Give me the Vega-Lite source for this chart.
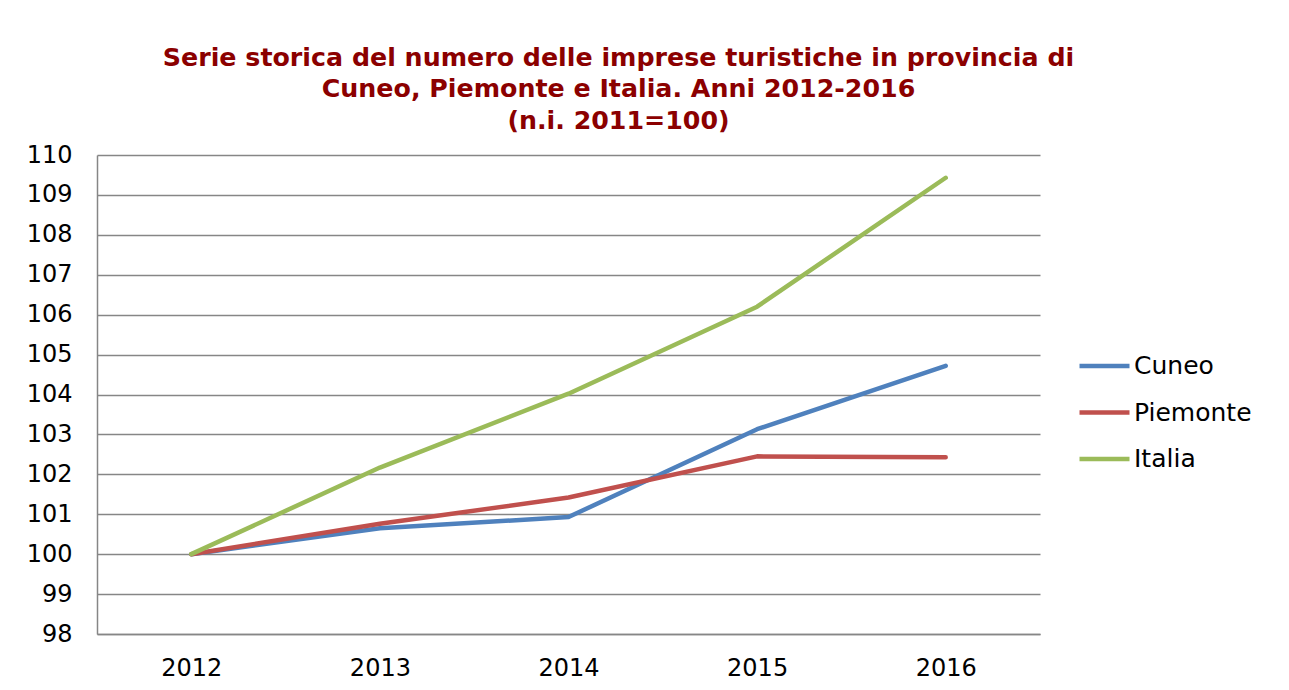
{
  "$schema": "https://vega.github.io/schema/vega-lite/v6.json",
  "width": 943,
  "height": 479,
  "autosize": {"type": "none"},
  "padding": {"left": 97, "top": 155, "right": 249, "bottom": 56},
  "background": "white",
  "title": {
    "text": ["Serie storica del numero delle imprese turistiche in provincia di", "Cuneo, Piemonte e Italia. Anni 2012-2016", "(n.i. 2011=100)"],
    "anchor": "middle",
    "frame": "group",
    "dx": 50,
    "offset": 9,
    "font": "DejaVu Sans",
    "fontSize": 25.3,
    "fontWeight": "bold",
    "color": "#8B0000",
    "lineHeight": 31.5
  },
  "data": {
    "values": [
      {"anno": "2012", "serie": "Cuneo", "valore": 100},
      {"anno": "2013", "serie": "Cuneo", "valore": 100.65},
      {"anno": "2014", "serie": "Cuneo", "valore": 100.93},
      {"anno": "2015", "serie": "Cuneo", "valore": 103.13},
      {"anno": "2016", "serie": "Cuneo", "valore": 104.72},
      {"anno": "2012", "serie": "Piemonte", "valore": 100},
      {"anno": "2013", "serie": "Piemonte", "valore": 100.76},
      {"anno": "2014", "serie": "Piemonte", "valore": 101.42},
      {"anno": "2015", "serie": "Piemonte", "valore": 102.45},
      {"anno": "2016", "serie": "Piemonte", "valore": 102.43},
      {"anno": "2012", "serie": "Italia", "valore": 100},
      {"anno": "2013", "serie": "Italia", "valore": 102.17},
      {"anno": "2014", "serie": "Italia", "valore": 104.02},
      {"anno": "2015", "serie": "Italia", "valore": 106.2},
      {"anno": "2016", "serie": "Italia", "valore": 109.43}
    ]
  },
  "mark": {"type": "line", "strokeWidth": 4.5, "strokeCap": "round", "strokeJoin": "round"},
  "encoding": {
    "x": {
      "field": "anno",
      "type": "ordinal",
      "scale": {"padding": 0.5},
      "axis": {
        "title": null,
        "labelAngle": 0,
        "labelFont": "DejaVu Sans",
        "labelFontSize": 24,
        "labelColor": "black",
        "labelPadding": 22,
        "ticks": false,
        "domainColor": "#868686",
        "domainWidth": 1.5,
        "grid": false
      }
    },
    "y": {
      "field": "valore",
      "type": "quantitative",
      "scale": {"domain": [98, 110], "nice": false, "zero": false},
      "axis": {
        "title": null,
        "values": [98, 99, 100, 101, 102, 103, 104, 105, 106, 107, 108, 109, 110],
        "labelFont": "DejaVu Sans",
        "labelFontSize": 24,
        "labelColor": "black",
        "labelPadding": 25,
        "ticks": false,
        "domainColor": "#868686",
        "domainWidth": 1.5,
        "grid": true,
        "gridColor": "#868686",
        "gridWidth": 1.5,
        "gridOpacity": 1
      }
    },
    "color": {
      "field": "serie",
      "type": "nominal",
      "scale": {"domain": ["Cuneo", "Piemonte", "Italia"], "range": ["#4F81BD", "#C0504D", "#9BBB59"]},
      "legend": {
        "title": null,
        "orient": "none",
        "legendX": 992.5,
        "legendY": 196,
        "symbolType": "M-2,0L2,0",
        "symbolSize": 625,
        "symbolStrokeWidth": 4.5,
        "labelFont": "DejaVu Sans",
        "labelFontSize": 25,
        "labelColor": "black",
        "labelOffset": 14.5,
        "rowPadding": 18.5
      }
    }
  },
  "config": {"view": {"stroke": null}}
}
